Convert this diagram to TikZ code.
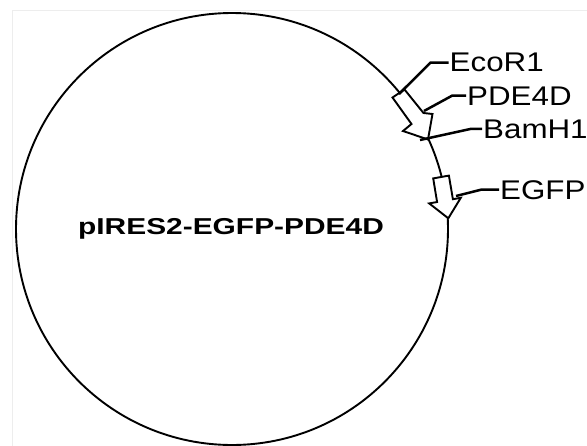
\documentclass[tikz,border=0pt]{standalone}
\usepackage{fontspec}
\setmainfont{Liberation Sans}
\newfontfamily\sitefont[FakeStretch=1.16]{Liberation Sans}
\newfontfamily\namefont[FakeStretch=1.3]{Liberation Sans}

\begin{document}
\begin{tikzpicture}[x=1pt,y=1pt]
\tikzstyle{every node}+=[inner sep=1pt]
\tikzstyle{site}=[anchor=base west,font=\sitefont\fontsize{27}{31}\selectfont]
\tikzstyle{gene}=[draw=black,fill=white,line width=1.9pt,line join=miter]
\tikzstyle{leader}=[black,line width=2.5pt]
\useasboundingbox (0,0) rectangle (587,-445);
\draw [black!7, line width=0.8pt] (12.3,-10.7) rectangle (620,-480);
\draw [black, line width=1.9pt] (232,-229) circle (216);
\node [font=\namefont\bfseries\fontsize{23}{28}\selectfont, anchor=base] (plasmid) at (231,-234) {pIRES2-EGFP-PDE4D};
\draw [gene] (392.5,-97.5) -- (404.5,-89.5) -- (423.5,-113) -- (432.5,-114) -- (428,-139.5) -- (403,-131) -- (411.5,-124) -- cycle;
\draw [gene] (433.2,-178.4) -- (448.9,-175.6) -- (452.9,-199.2) -- (460.8,-197.8) -- (448.3,-218.3) -- (429.2,-203.4) -- (437.1,-202) -- cycle;
\node [site] (ecor1) at (448.5,-71.7) {EcoR1};
\node [site] (pde4d) at (466,-105) {PDE4D};
\node [site] (bamh1) at (482,-138) {BamH1};
\node [site] (egfp) at (499,-199) {EGFP};
\coordinate (ecor1site) at (399,-94);
\coordinate (pde4dend) at (424,-111);
\coordinate (bamh1site) at (420,-140);
\coordinate (egfpend) at (456,-196);
\draw [leader] (ecor1site) -- ([xshift=-18pt]ecor1.west) -- (ecor1.west);
\draw [leader] (pde4dend) -- ([xshift=-14pt]pde4d.west) -- (pde4d.west);
\draw [leader] (bamh1site) -- ([xshift=-11pt]bamh1.west) -- (bamh1.west);
\draw [leader] (egfpend) -- ([xshift=-18pt]egfp.west) -- (egfp.west);
\end{tikzpicture}
\end{document}
